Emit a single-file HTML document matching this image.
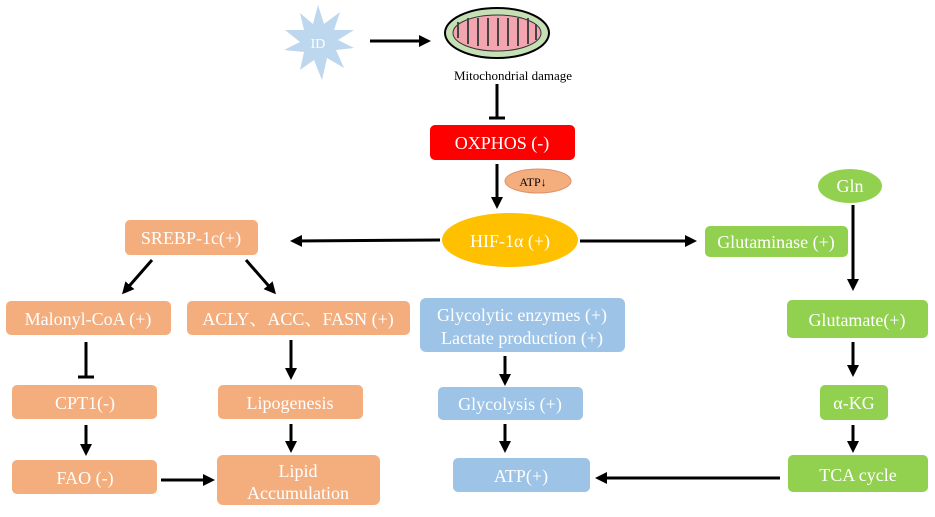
<!DOCTYPE html>
<html><head><meta charset="utf-8"><style>
body{margin:0;background:#fff;}
svg text{font-family:"Liberation Serif","Noto Serif CJK SC",serif;}
.w{fill:#fff;font-size:18px;text-anchor:middle;}
</style></head><body>
<svg width="935" height="512" viewBox="0 0 935 512" xmlns="http://www.w3.org/2000/svg">
<defs><marker id="a" markerWidth="12" markerHeight="12" refX="9" refY="6" orient="auto" markerUnits="userSpaceOnUse"><path d="M0,0 L12,6 L0,12 Z" fill="#000"/></marker></defs>
<g stroke="#000" stroke-width="3" fill="none">
<line x1="370" y1="41" x2="428" y2="41" marker-end="url(#a)"/>
<line x1="497" y1="84" x2="497" y2="118"/><line x1="489" y1="118" x2="505" y2="118"/>
<line x1="497" y1="164" x2="497" y2="206" marker-end="url(#a)"/>
<line x1="440" y1="240" x2="293" y2="241" marker-end="url(#a)"/>
<line x1="580" y1="241" x2="694" y2="241" marker-end="url(#a)"/>
<line x1="853" y1="205" x2="853" y2="288" marker-end="url(#a)"/>
<line x1="853" y1="342" x2="853" y2="374" marker-end="url(#a)"/>
<line x1="853" y1="425" x2="853" y2="450" marker-end="url(#a)"/>
<line x1="780" y1="478" x2="598" y2="478" marker-end="url(#a)"/>
<line x1="505" y1="356" x2="505" y2="383" marker-end="url(#a)"/>
<line x1="505" y1="424" x2="505" y2="450" marker-end="url(#a)"/>
<line x1="152" y1="260" x2="124" y2="292" marker-end="url(#a)"/>
<line x1="246" y1="260" x2="274" y2="292" marker-end="url(#a)"/>
<line x1="86" y1="342" x2="86" y2="377"/><line x1="78" y1="377" x2="94" y2="377"/>
<line x1="86" y1="425" x2="86" y2="453" marker-end="url(#a)"/>
<line x1="161" y1="480" x2="212" y2="480" marker-end="url(#a)"/>
<line x1="291" y1="340" x2="291" y2="377" marker-end="url(#a)"/>
<line x1="291" y1="424" x2="291" y2="450" marker-end="url(#a)"/>
</g>
<polygon points="318,5 324,24 340,12 334,30 354,30 338,40 354,48 336,50 344,68 327,58 322,80 314,60 300,70 304,52 284,50 300,42 285,30 304,30 300,13 313,24" fill="#bdd7ee"/>
<text x="318" y="48" fill="#fff" font-size="14" text-anchor="middle">ID</text>
<ellipse cx="497" cy="33" rx="52" ry="25" fill="#c5e0b4" stroke="#000" stroke-width="2"/>
<ellipse cx="497" cy="33" rx="44" ry="18" fill="#f4a6b0" stroke="#333" stroke-width="1"/>
<path d="M458,38 L458,22 M468,44 L468,18 M478,46 L478,18 M488,46 L488,18 M498,46 L498,18 M508,46 L508,18 M518,46 L518,18 M528,44 L528,18 M536,40 L536,24" stroke="#444" stroke-width="2"/>
<text x="513" y="80" font-size="13" text-anchor="middle">Mitochondrial damage</text>
<rect x="430" y="125" width="145" height="35" rx="5" fill="#ff0000"/>
<text class="w" x="502" y="149" font-size="19">OXPHOS (-)</text>
<ellipse cx="538" cy="181" rx="33" ry="12" fill="#f4ae7e" stroke="#e0906a"/>
<text x="533" y="186" font-size="12" text-anchor="middle">ATP↓</text>
<ellipse cx="510" cy="240" rx="68" ry="27" fill="#ffc000"/>
<text class="w" x="510" y="247" font-size="19">HIF-1α (+)</text>
<g fill="#f4ae7e">
<rect x="125" y="220" width="133" height="35" rx="5"/>
<rect x="6" y="301" width="165" height="34" rx="5"/>
<rect x="187" y="301" width="223" height="34" rx="5"/>
<rect x="12" y="385" width="145" height="34" rx="5"/>
<rect x="218" y="385" width="145" height="34" rx="5"/>
<rect x="12" y="460" width="145" height="34" rx="5"/>
<rect x="217" y="455" width="163" height="50" rx="6"/>
</g>
<text class="w" x="191" y="244">SREBP-1c(+)</text>
<text class="w" x="88" y="325">Malonyl-CoA (+)</text>
<text class="w" x="298" y="325">ACLY、ACC、FASN (+)</text>
<text class="w" x="85" y="409">CPT1(-)</text>
<text class="w" x="290" y="409">Lipogenesis</text>
<text class="w" x="85" y="484">FAO (-)</text>
<text class="w" x="298" y="477">Lipid</text>
<text class="w" x="298" y="499">Accumulation</text>
<g fill="#9dc3e6">
<rect x="420" y="298" width="205" height="54" rx="6"/>
<rect x="438" y="387" width="145" height="33" rx="5"/>
<rect x="453" y="458" width="137" height="34" rx="5"/>
</g>
<text class="w" x="522" y="321">Glycolytic enzymes (+)</text>
<text class="w" x="522" y="344">Lactate production (+)</text>
<text class="w" x="510" y="410">Glycolysis (+)</text>
<text class="w" x="521" y="482">ATP(+)</text>
<g fill="#92d050">
<ellipse cx="850" cy="186" rx="32" ry="17"/>
<rect x="705" y="226" width="143" height="31" rx="5"/>
<rect x="787" y="300" width="141" height="38" rx="5"/>
<rect x="820" y="385" width="68" height="35" rx="5"/>
<rect x="788" y="455" width="140" height="37" rx="5"/>
</g>
<text class="w" x="850" y="192">Gln</text>
<text class="w" x="776" y="248">Glutaminase (+)</text>
<text class="w" x="857" y="326">Glutamate(+)</text>
<text class="w" x="854" y="409">α-KG</text>
<text class="w" x="858" y="481">TCA cycle</text>
</svg>
</body></html>
